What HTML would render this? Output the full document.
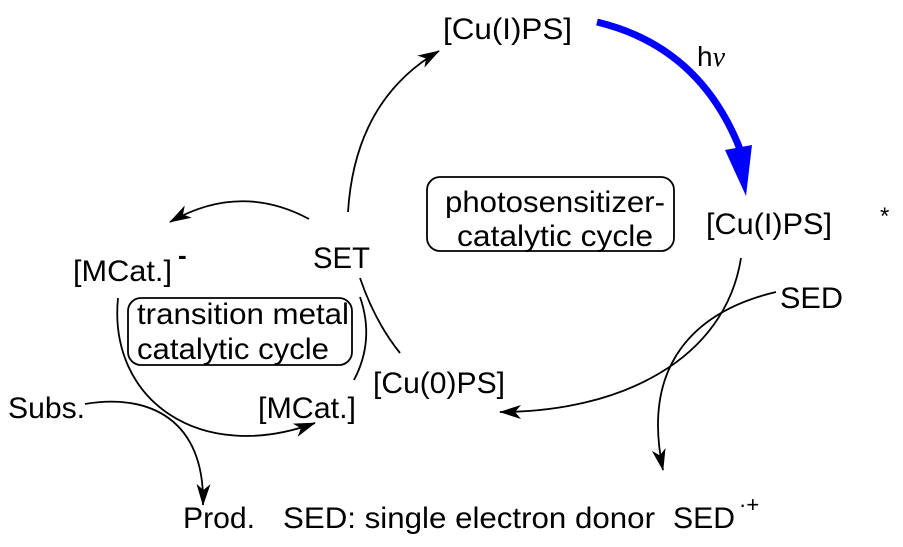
<!DOCTYPE html>
<html><head><meta charset="utf-8"><style>
html,body{margin:0;padding:0;background:#fff;}
svg{display:block;}
text{font-family:"Liberation Sans",Arial,sans-serif;font-size:30px;fill:#000;}
</style></head><body>
<svg width="903" height="547" viewBox="0 0 903 547" xmlns="http://www.w3.org/2000/svg">
<defs>
<marker id="a" viewBox="0 0 22 14" refX="21" refY="7" markerWidth="22" markerHeight="14" markerUnits="userSpaceOnUse" orient="auto">
<path d="M0,0 L22,7 L0,14 L6,7 Z" fill="#000"/>
</marker>
</defs>
<g fill="none" stroke="#000" stroke-width="1.8">
<path d="M348,212 Q355,100 439,51" marker-end="url(#a)"/>
<path d="M741,258 C725,360 620,412 500,412" marker-end="url(#a)"/>
<path d="M776,292 C700,310 640,360 663,470" marker-end="url(#a)"/>
<path d="M360,278 Q375,322 400,353"/>
<path d="M309,219 Q240,182 170,222" marker-end="url(#a)"/>
<path d="M118,298 C108,400 200,465 315,423" marker-end="url(#a)"/>
<path d="M354,380 Q375,340 360,297"/>
<path d="M85,404 C150,393 205,420 203,505" marker-end="url(#a)"/>
<rect x="427" y="177" width="247" height="74" rx="13"/>
<rect x="128" y="298" width="224" height="67" rx="13"/>
</g>
<path d="M597,22 Q705,48 744,160" fill="none" stroke="#0000ff" stroke-width="7"/>
<polygon points="725,150 752,145 746,196" fill="#0000ff"/>
<text x="443" y="39" textLength="129" lengthAdjust="spacingAndGlyphs">[Cu(I)PS]</text>
<text x="697" y="66" style="font-size:28px">h<tspan font-family="Liberation Serif" font-style="italic">ν</tspan></text>
<text x="706" y="234" textLength="126" lengthAdjust="spacingAndGlyphs">[Cu(I)PS]</text>
<text x="880" y="224" style="font-size:24px">*</text>
<text x="445" y="212" textLength="220" lengthAdjust="spacingAndGlyphs">photosensitizer-</text>
<text x="457" y="246" textLength="196" lengthAdjust="spacingAndGlyphs">catalytic cycle</text>
<text x="313" y="268" textLength="57" lengthAdjust="spacingAndGlyphs">SET</text>
<text x="73" y="281" textLength="99" lengthAdjust="spacingAndGlyphs">[MCat.]</text>
<text x="178" y="264" style="font-size:26px;font-weight:bold">-</text>
<text x="137" y="324" textLength="212" lengthAdjust="spacingAndGlyphs">transition metal</text>
<text x="137" y="359" textLength="192" lengthAdjust="spacingAndGlyphs">catalytic cycle</text>
<text x="373" y="393" textLength="132" lengthAdjust="spacingAndGlyphs">[Cu(0)PS]</text>
<text x="258" y="418" textLength="98" lengthAdjust="spacingAndGlyphs">[MCat.]</text>
<text x="8" y="418" textLength="77" lengthAdjust="spacingAndGlyphs">Subs.</text>
<text x="183" y="528" textLength="72" lengthAdjust="spacingAndGlyphs">Prod.</text>
<text x="283" y="528" textLength="372" lengthAdjust="spacingAndGlyphs">SED: single electron donor</text>
<text x="673" y="528" textLength="62" lengthAdjust="spacingAndGlyphs">SED</text>
<text x="739" y="512" style="font-size:22px">·+</text>
<text x="780" y="308" textLength="63" lengthAdjust="spacingAndGlyphs">SED</text>
</svg>
</body></html>
